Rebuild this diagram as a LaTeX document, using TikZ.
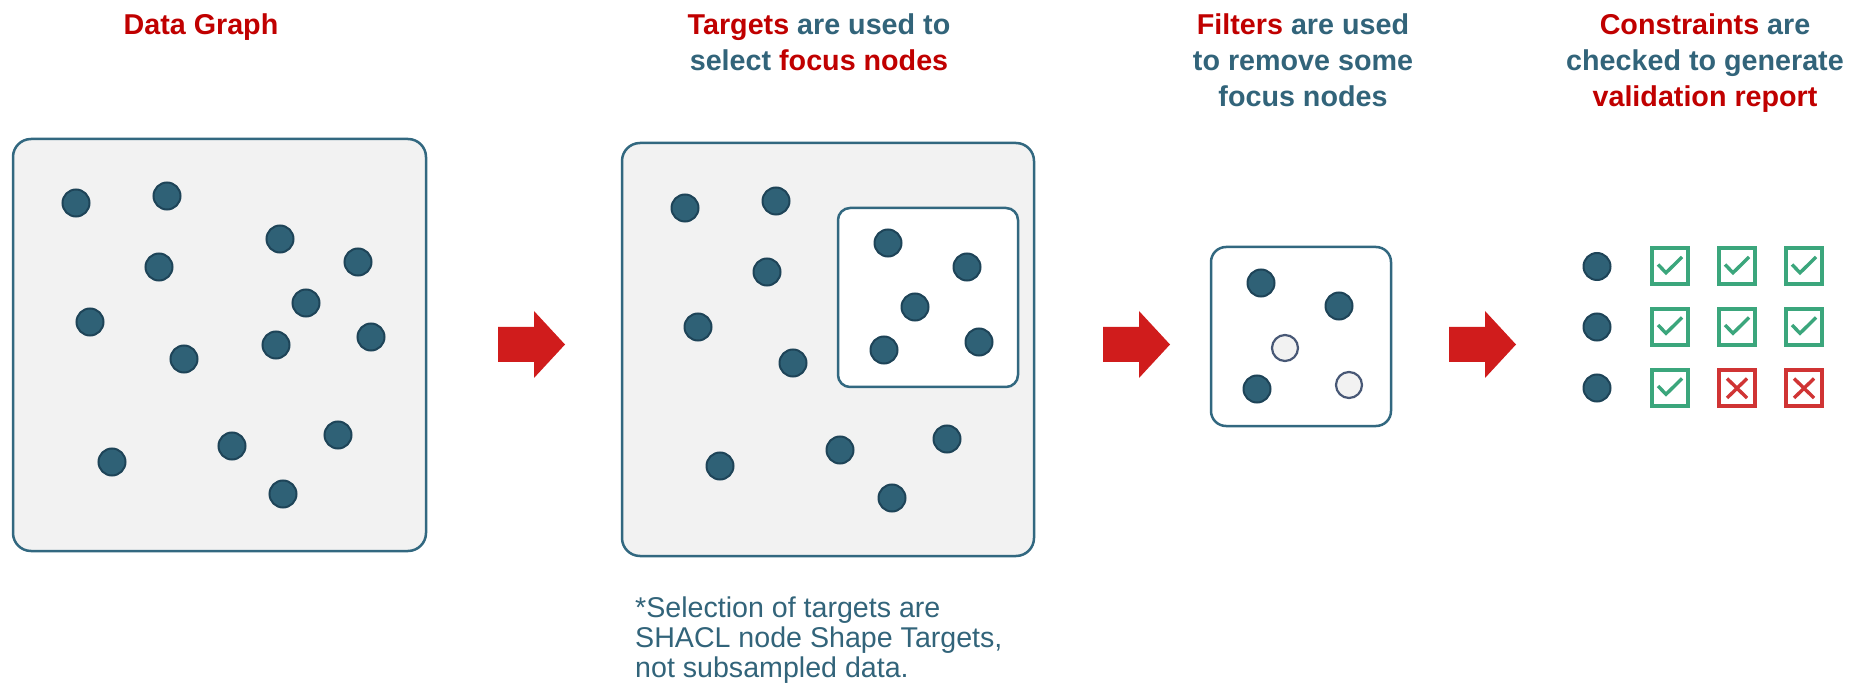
\documentclass[tikz,border=0pt]{standalone}
\usepackage{fontspec}
\setmainfont{Liberation Sans}
\definecolor{accent}{RGB}{192,0,0}
\definecolor{inkteal}{RGB}{50,100,122}
\definecolor{boxline}{RGB}{50,104,128}
\definecolor{panel}{RGB}{242,242,242}
\definecolor{dotfill}{RGB}{47,97,118}
\definecolor{dotline}{RGB}{30,68,88}
\definecolor{hollowline}{RGB}{72,88,118}
\definecolor{arrowred}{RGB}{208,28,28}
\definecolor{okgreen}{RGB}{59,166,124}
\definecolor{nored}{RGB}{208,52,52}
\begin{document}
\begin{tikzpicture}[x=1pt,y=-1pt,
  graphbox/.style={draw=boxline, line width=2.5pt, rounded corners=18pt, fill=panel, inner sep=0pt},
  subbox/.style={draw=boxline, line width=2.5pt, rounded corners=#1, fill=white, inner sep=0pt},
  dot/.style={circle, draw=dotline, fill=dotfill, line width=2pt, minimum size=27pt, inner sep=0pt},
  hollow/.style={circle, draw=hollowline, fill=panel, line width=2.2pt, minimum size=26pt, inner sep=0pt},
  title/.style={anchor=north, align=center, inner sep=0pt, text=inkteal,
    font=\bfseries\fontsize{28.7}{35.8}\selectfont},
  note/.style={anchor=north west, align=left, inner sep=0pt, text=inkteal,
    font=\fontsize{28.6}{29.6}\selectfont},
  cellok/.style={draw=okgreen, fill=white, line width=4pt, minimum size=36pt, inner sep=0pt},
  cellno/.style={draw=nored, fill=white, line width=4pt, minimum size=36pt, inner sep=0pt},
  tick/.style={draw=okgreen, line width=3.4pt},
  cross/.style={draw=nored, line width=3.4pt},
  blockarrow/.style={fill=arrowred}
]
\useasboundingbox (0,0) rectangle (1850,692);

% headings
\node[title, text=accent] (t1) at (201,14) {Data Graph};
\node[title] (t2) at (819,14) {\textcolor{accent}{Targets} are used to\\select \textcolor{accent}{focus nodes}};
\node[title] (t3) at (1303,14) {\textcolor{accent}{Filters} are used\\to remove some\\focus nodes};
\node[title] (t4) at (1705,14) {\textcolor{accent}{Constraints} are\\checked to generate\\\textcolor{accent}{validation report}};

% data graph
\node[graphbox, minimum width=413pt, minimum height=412pt] (g1) at (219.5,345) {};
\foreach \i/\xx/\yy in {1/76/203,2/167/196,3/280/239,4/358/262,5/159/267,6/306/303,7/90/322,
    8/371/337,9/276/345,10/184/359,11/338/435,12/232/446,13/112/462,14/283/494}
  \node[dot] (a\i) at (\xx,\yy) {};

% targets select focus nodes
\node[graphbox, minimum width=412pt, minimum height=413pt] (g2) at (828,349.5) {};
\node[subbox=12pt, minimum width=180pt, minimum height=179pt] (sel) at (928,297.5) {};
\foreach \i/\xx/\yy in {1/685/208,2/776/201,3/767/272,4/698/327,5/793/363,6/888/243,7/967/267,
    8/915/307,9/884/350,10/979/342,11/947/439,12/840/450,13/720/466,14/892/498}
  \node[dot] (b\i) at (\xx,\yy) {};

\node[note] (fn) at (635,597) {*Selection of targets are\\SHACL node Shape Targets,\\not subsampled data.};

% filtered focus nodes
\node[subbox=15pt, minimum width=180pt, minimum height=179pt] (g3) at (1301,336.5) {};
\foreach \i/\xx/\yy in {1/1261/283,2/1339/306,3/1257/389}
  \node[dot] (c\i) at (\xx,\yy) {};
\foreach \i/\xx/\yy in {1/1285/348,2/1349/385}
  \node[hollow] (h\i) at (\xx,\yy) {};

% validation results
\foreach \r/\yy in {1/266.5,2/327,3/388}
  \node[dot] (f\r) at (1597,\yy) {};
\foreach \nm/\xx/\yy in {k11/1670/266.5,k12/1737/266.5,k13/1804/266.5,
    k21/1670/327,k22/1737/327,k23/1804/327,k31/1670/388}{
  \node[cellok] (\nm) at (\xx,\yy) {};
  \draw[tick] ([shift={(-12,-2)}]\nm.center) -- ([shift={(-4,6.3)}]\nm.center)
    -- ([shift={(12,-9.5)}]\nm.center);
}
\foreach \nm/\xx/\yy in {k32/1737/388,k33/1804/388}{
  \node[cellno] (\nm) at (\xx,\yy) {};
  \draw[cross] ([shift={(-10,-9.5)}]\nm.center) -- ([shift={(10,10)}]\nm.center);
  \draw[cross] ([shift={(-10,10)}]\nm.center) -- ([shift={(10,-9.5)}]\nm.center);
}

% step arrows
\foreach \dx in {0,605,951}
  \fill[blockarrow, xshift=\dx pt] (498,327) -- (534,327) -- (534,311) -- (565,344.5)
    -- (534,378) -- (534,362) -- (498,362) -- cycle;
\end{tikzpicture}
\end{document}
